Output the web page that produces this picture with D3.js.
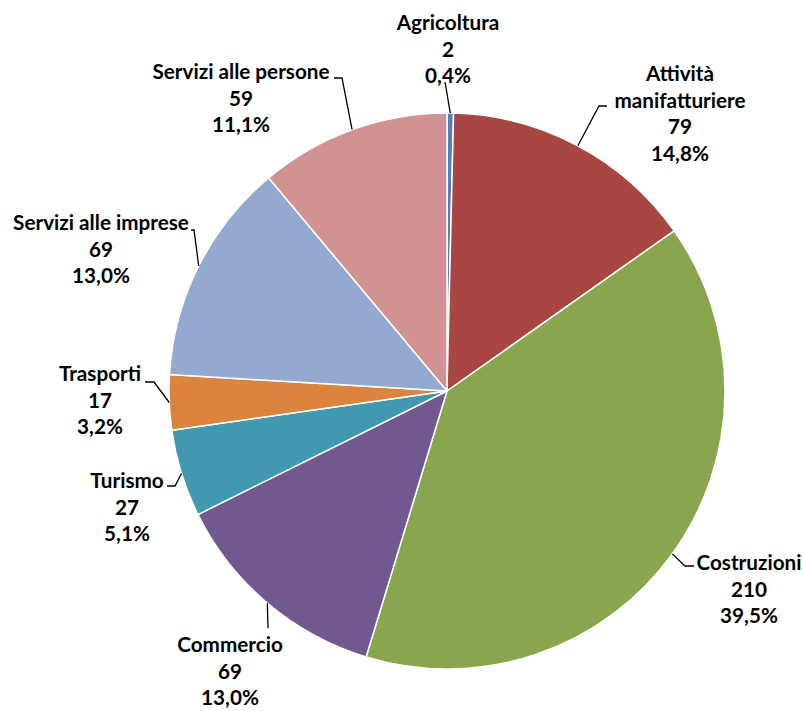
<!DOCTYPE html>
<html><head><meta charset="utf-8">
<script src="https://cdn.jsdelivr.net/npm/d3@7/dist/d3.min.js"></script>
<style>
html,body{margin:0;padding:0;background:#fff;}
svg{display:block;}
text{font-family:"Lato","Open Sans",sans-serif;font-weight:bold;font-size:20.7px;fill:#000;}
</style></head>
<body>
<script>
// ---- data ----
const categories = ["Agricoltura","Attività manifatturiere","Costruzioni","Commercio","Turismo","Trasporti","Servizi alle imprese","Servizi alle persone"];
const values = [2,79,210,69,27,17,69,59];
const percentLabels = ["0,4%","14,8%","39,5%","13,0%","5,1%","3,2%","13,0%","11,1%"];
const nameLines = [["Agricoltura"],["Attività","manifatturiere"],["Costruzioni"],["Commercio"],["Turismo"],["Trasporti"],["Servizi alle imprese"],["Servizi alle persone"]];

// ---- style / layout ----
const colors = ["#4F81BD","#A84643","#89A54E","#71588F","#4198AF","#DB843D","#93A9D0","#D09392"];
const W = 803, H = 711, cx = 447, cy = 391, R = 278;
// label block: center x, first baseline y ; leader elbow + end points
const labelLayout = [
  {x:448, y:30,  pts:[[445,82]]},
  {x:680, y:81,  pts:[[599,106],[607,106]]},
  {x:749, y:570, pts:[[685,566],[694,566]]},
  {x:230, y:652, pts:[[268,628]]},
  {x:127, y:488, pts:[[175,486],[167,486]]},
  {x:100, y:381, pts:[[154,382],[145,382]]},
  {x:101, y:230, pts:[[194,230],[191,230]]},
  {x:241, y:79,  pts:[[342,78],[334,78]]}
];
const lineH = 26.5;

const svg = d3.select("body").append("svg").attr("width",W).attr("height",H);
const pie = d3.pie().sort(null).value(d=>d)(values);
const arc = d3.arc().innerRadius(0).outerRadius(R);
const g = svg.append("g").attr("transform",`translate(${cx},${cy})`);
g.selectAll("path").data(pie).join("path")
  .attr("d",arc).attr("fill",(d,i)=>colors[i])
  .attr("stroke","#fff").attr("stroke-width",1.5).attr("stroke-linejoin","round");

pie.forEach((d,i)=>{
  const L = labelLayout[i];
  const mid = (d.startAngle+d.endAngle)/2;
  const e = [cx + R*Math.sin(mid), cy - R*Math.cos(mid)];
  const pts = [e].concat(L.pts);
  svg.append("path").attr("d", d3.line()(pts)).attr("fill","none")
    .attr("stroke","#000").attr("stroke-width",1.3);
  const lines = nameLines[i].concat([String(values[i]), percentLabels[i]]);
  const t = svg.append("text").attr("text-anchor","middle");
  lines.forEach((s,k)=>{
    t.append("tspan").attr("x",L.x).attr("y",L.y + k*lineH).text(s);
  });
});
</script>
</body></html>
